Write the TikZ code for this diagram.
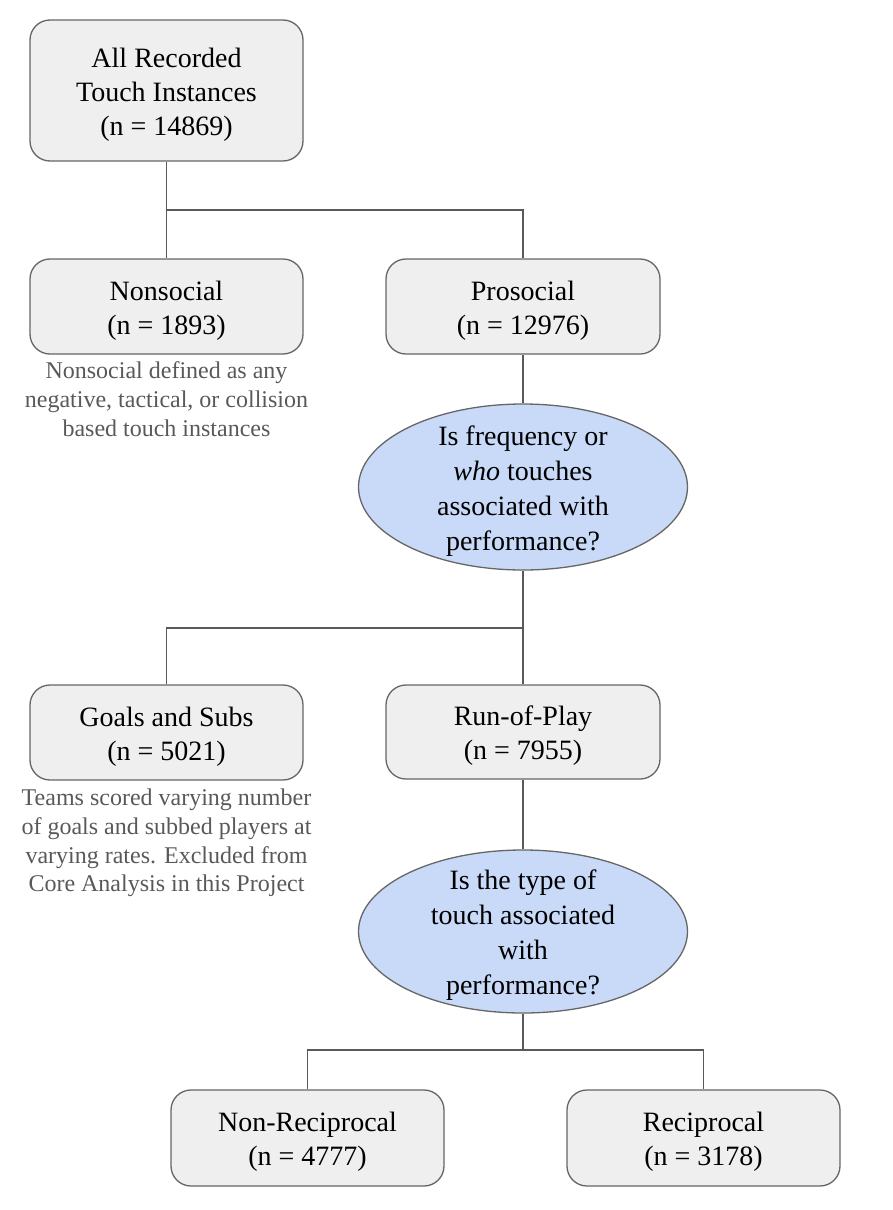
\documentclass[tikz,border=0pt]{standalone}
\usepackage{fontspec}
\setmainfont{Liberation Serif}
\usetikzlibrary{shapes.geometric}
\definecolor{boxfill}{HTML}{EFEFEF}
\definecolor{boxline}{HTML}{666666}
\definecolor{ellfill}{HTML}{C9DAF8}
\definecolor{conn}{HTML}{595959}
\definecolor{notetext}{HTML}{595959}
\newcommand\tstrut{\rule{0pt}{27pt}}
\tikzset{
  box/.style={draw=boxline, fill=boxfill, line width=1.3pt, rounded corners=20pt,
    align=center, inner sep=0pt, font=\fontsize{28}{34}\selectfont},
  question/.style={ellipse, draw=boxline, fill=ellfill, line width=1.3pt,
    align=center, inner xsep=0pt, inner ysep=-20pt, minimum width=329pt, minimum height=166pt,
    font=\fontsize{28}{35}\selectfont},
  note/.style={align=center, text=notetext, inner sep=0pt, font=\fontsize{24}{28.7}\selectfont},
  link/.style={draw=conn, line width=1.3pt}
}
\begin{document}
\begin{tikzpicture}[x=1pt,y=-1pt]
\useasboundingbox (0,0) rectangle (892,1210);
\node[box, minimum width=273pt, minimum height=141pt] (all) at (166.5,90.5) {\tstrut All Recorded\\Touch Instances\\(n = 14869)};
\node[box, minimum width=273pt, minimum height=95pt] (nonsoc) at (166.5,306.5) {\tstrut Nonsocial\\(n = 1893)};
\node[box, minimum width=274pt, minimum height=95pt] (prosoc) at (523,306.5) {\tstrut Prosocial\\(n = 12976)};
\node[note] (nonsocnote) at (166.5,399) {Nonsocial defined as any\\negative, tactical, or collision\\based touch instances};
\node[question] (q1) at (523,487) {\tstrut Is frequency or\\\textit{who} touches\\associated with\\performance?};
\node[box, minimum width=273pt, minimum height=95pt] (goals) at (166.5,732.5) {\tstrut Goals and Subs\\(n = 5021)};
\node[box, minimum width=274pt, minimum height=94pt] (run) at (523,732) {\tstrut Run-of-Play\\(n = 7955)};
\node[note] (goalsnote) at (166.5,843) {Teams scored varying number\\of goals and subbed players at\\varying rates. Excluded from\\Core Analysis in this Project};
\node[question, minimum height=163pt] (q2) at (523,931.5) {\tstrut Is the type of\\touch associated\\with\\performance?};
\node[box, minimum width=273pt, minimum height=96pt] (nonrec) at (307.5,1138) {\tstrut Non-Reciprocal\\(n = 4777)};
\node[box, minimum width=273pt, minimum height=96pt] (rec) at (703.5,1138) {\tstrut Reciprocal\\(n = 3178)};
\coordinate (j1) at (166.5,210);
\coordinate (j2) at (523,628);
\coordinate (j3) at (523,1050);
\draw[link] (all.south) -- (j1) -- (nonsoc.north);
\draw[link] (j1) -| (prosoc.north);
\draw[link] (prosoc.south) -- (q1.north);
\draw[link] (q1.south) -- (j2) -- (run.north);
\draw[link] (j2) -| (goals.north);
\draw[link] (run.south) -- (q2.north);
\draw[link] (q2.south) -- (j3);
\draw[link] (nonrec.north) |- (j3) -| (rec.north);
\end{tikzpicture}
\end{document}
